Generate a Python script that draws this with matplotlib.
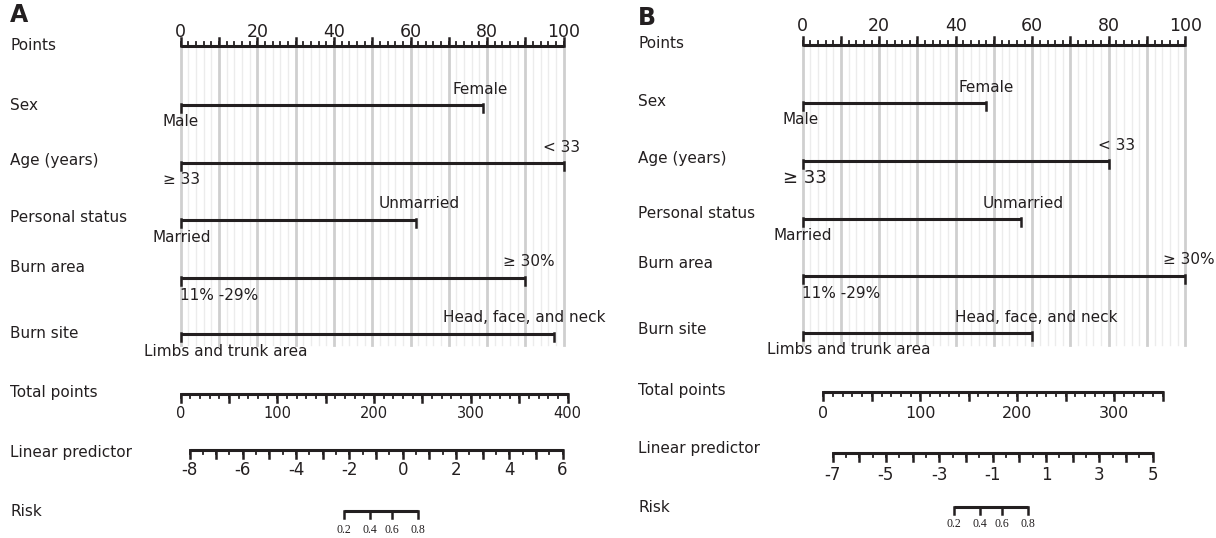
import numpy as np
import matplotlib
matplotlib.use("Agg")
import matplotlib.pyplot as plt

plt.rcParams['font.family'] = ['DejaVu Sans']

# nomogram content
variables = ["Sex", "Age (years)", "Personal status", "Burn area", "Burn site"]
levels_low = ["Male", "≥ 33", "Married", "11% -29%", "Limbs and trunk area"]
levels_high = ["Female", "< 33", "Unmarried", "≥ 30%", "Head, face, and neck"]
points_a = [79, 100, 61.5, 90, 97.5]
points_b = [48, 80, 57, 100, 60]

points_ticks = [0, 20, 40, 60, 80, 100]
total_ticks_a = [0, 100, 200, 300, 400]
total_ticks_b = [0, 100, 200, 300]
total_max_a = 400
total_max_b = 350
lp_ticks_a = [-8, -6, -4, -2, 0, 2, 4, 6]
lp_ticks_b = [-7, -5, -3, -1, 1, 3, 5]
risk_ticks = [0.2, 0.4, 0.6, 0.8]

INK = "#231f20"
W, H = 1216, 538

fig = plt.figure(figsize=(W / 100, H / 100), dpi=100)


def scale(ax, y, vmin, vmax, pmin, pmax, majors, minors, labels, up, fs,
          label_dy, family=None, major_len=8, minor_len=4, fn=None):
    # draws one scale line; values are mapped onto the points axis
    if fn is None:
        fn = lambda v: v
    f0, f1 = fn(vmin), fn(vmax)
    to_x = lambda v: pmin + (fn(v) - f0) / (f1 - f0) * (pmax - pmin)
    ax.plot([to_x(vmin), to_x(vmax)], [y, y], color=INK, lw=2.2,
            solid_capstyle="butt", clip_on=False)
    sgn = -1 if up else 1
    for v in minors:
        ax.plot([to_x(v)] * 2, [y, y + sgn * minor_len], color=INK, lw=1.3,
                clip_on=False)
    for v in majors:
        ax.plot([to_x(v)] * 2, [y, y + sgn * major_len], color=INK, lw=1.8,
                clip_on=False)
    for v in labels:
        ax.text(to_x(v), y + label_dy, f"{v:g}", ha="center", va="center",
                fontsize=fs, color=INK, family=family, clip_on=False)


def panel(left_px, right_px, letter, letter_y, pts, cfg):
    ax = fig.add_axes([left_px / W, 0, (right_px - left_px) / W, 1])
    ax.set_xlim(0, 100)
    ax.set_ylim(H, 0)
    ax.axis("off")
    px = (right_px - left_px) / 100.0  # pixels per point
    lab_x = -(left_px - cfg["name_x"]) / px

    ax.text(lab_x, letter_y, letter, fontsize=17, fontweight="bold",
            color=INK, ha="left", va="center")

    # grid behind the variable bars
    for g in np.arange(0, 101, 2):
        major = g % 10 == 0
        ax.plot([g, g], [cfg["points_y"], 345],
                color="#cfcfcf" if major else "#ececec",
                lw=2.0 if major else 1.0, zorder=0, clip_on=False)

    # points scale
    ax.text(lab_x, cfg["points_y"] - 1, "Points", fontsize=11, color=INK,
            ha="left", va="center")
    scale(ax, cfg["points_y"], 0, 100, 0, 100, range(0, 101, 10),
          range(0, 101, 2), points_ticks, True, 12.5, cfg["points_dy"])

    # variable bars
    for i, name in enumerate(variables):
        y = cfg["bar_y"][i]
        ax.text(lab_x, cfg["name_y"][i], name, fontsize=11, color=INK,
                ha="left", va="center")
        ax.plot([0, pts[i]], [y, y], color=INK, lw=2.2, clip_on=False,
                solid_capstyle="butt")
        for v in (0, pts[i]):
            ax.plot([v, v], [y - 1, y + 7], color=INK, lw=1.8, clip_on=False)
        ha_lo, dx_lo, fs_lo = cfg["low_pos"][i]
        ax.annotate(levels_low[i], (0, y), xytext=(dx_lo, -17),
                    textcoords="offset pixels", ha=ha_lo, va="center",
                    fontsize=fs_lo, color=INK)
        ax.annotate(levels_high[i], (pts[i], y), xytext=(cfg["high_dx"][i], 16),
                    textcoords="offset pixels", ha="center", va="center",
                    fontsize=11, color=INK)

    # total points, linear predictor, risk
    t = cfg["total"]
    ax.text(lab_x, t["name_y"], "Total points", fontsize=11, color=INK,
            ha="left", va="center")
    scale(ax, t["y"], 0, t["max"], t["p0"], t["p1"],
          range(0, t["max"] + 1, 50), range(0, t["max"] + 1, 10),
          t["ticks"], False, t["fs"], t["dy"])

    l = cfg["lp"]
    ax.text(lab_x, l["name_y"], "Linear predictor", fontsize=11, color=INK,
            ha="left", va="center")
    lp_lo, lp_hi = l["ticks"][0], l["ticks"][-1]
    scale(ax, l["y"], lp_lo, lp_hi, l["p0"], l["p1"],
          range(lp_lo, lp_hi + 1), np.arange(lp_lo, lp_hi + 0.01, 0.5),
          l["ticks"], False, 12, l["dy"])

    r = cfg["risk"]
    ax.text(lab_x, r["name_y"], "Risk", fontsize=11, color=INK,
            ha="left", va="center")
    scale(ax, r["y"], risk_ticks[0], risk_ticks[-1], r["p0"], r["p1"],
          risk_ticks, [], risk_ticks, False, 8.5, r["dy"],
          family="Liberation Serif", major_len=7,
          fn=lambda p: np.log(p / (1 - p)))
    return ax


cfg_a = dict(
    name_x=10, points_y=46, points_dy=-14,
    bar_y=[105, 163, 220, 278, 334],
    name_y=[105, 160, 218, 268, 333],
    low_pos=[("center", 0, 11), ("center", 1, 11), ("center", 1, 11),
             ("left", -1, 11), ("center", 45, 11)],
    high_dx=[-3, -2, 3, 3, -30],
    total=dict(y=394, name_y=393, max=total_max_a, ticks=total_ticks_a,
               p0=0, p1=101, fs=10.5, dy=19),
    lp=dict(y=450, name_y=453, ticks=lp_ticks_a, p0=2.3, p1=99.7, dy=20),
    risk=dict(y=511, name_y=512, p0=42.6, p1=61.9, dy=19),
)

cfg_b = dict(
    name_x=638, points_y=45, points_dy=-19,
    bar_y=[103, 161, 219, 276, 333],
    name_y=[101, 159, 214, 264, 330],
    low_pos=[("center", -2, 11), ("center", 2, 13), ("center", 0, 11),
             ("left", -1, 11), ("center", 46, 11)],
    high_dx=[0, 8, 2, 4, 4],
    total=dict(y=392, name_y=390, max=total_max_b, ticks=total_ticks_b,
               p0=5.4, p1=94.1, fs=11.5, dy=21),
    lp=dict(y=453, name_y=449, ticks=lp_ticks_b, p0=7.8, p1=91.5, dy=22),
    risk=dict(y=507, name_y=508, p0=39.5, p1=59.0, dy=17),
)

panel(180.7, 563.7, "A", 15, points_a, cfg_a)
panel(802.7, 1185.2, "B", 18, points_b, cfg_b)

fig.savefig("out.png", dpi=100)
